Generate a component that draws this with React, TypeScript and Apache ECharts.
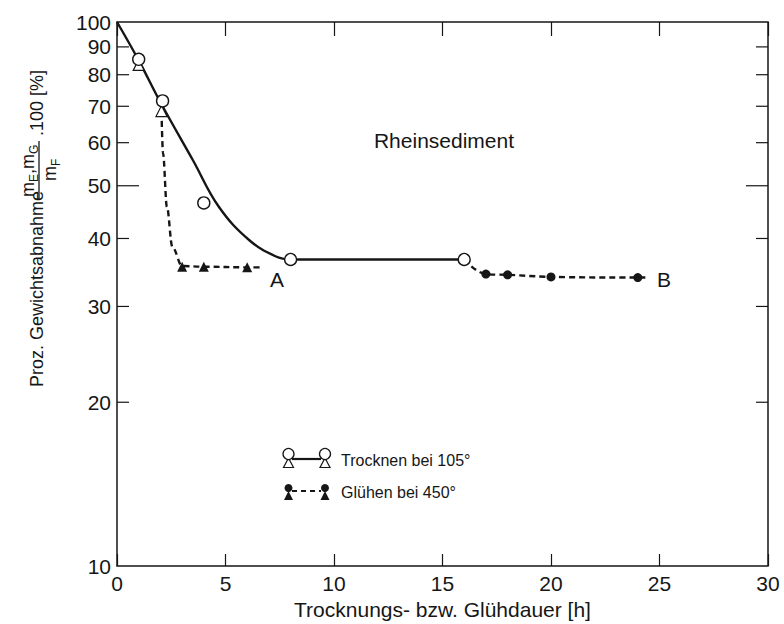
import React, { useEffect, useRef } from 'react';
import * as echarts from 'echarts';

// ---- data ----
const xTickLabels = [0, 5, 10, 15, 20, 25, 30];
const yTickValues = [100, 90, 80, 70, 60, 50, 40, 30, 20, 10];

// Trocknen bei 105° (open symbols, solid line)
const trocknenCircles = [[1, 85.4], [2.1, 71.6], [4, 46.5], [8, 36.6], [16, 36.6]];
const trocknenTriangles = [[1, 83.4], [2.05, 68.6]];
const trocknenCurve = [[0, 100], [1, 85], [2, 71.2], [3.5, 55.7], [4.7, 45.7], [6.1, 39.7], [7.3, 37.1], [8, 36.6], [9.5, 36.6], [16, 36.6]];

// Glühen bei 450° (filled symbols, dashed line)
const gluehenTriangles = [[3, 35.5], [4, 35.5], [6, 35.4]];
const gluehenCurveA = [[2.05, 68.6], [2.12, 57.4], [2.3, 45.7], [2.55, 38.6], [3, 35.6], [4, 35.5], [6, 35.4], [6.7, 35.4]];
const gluehenDots = [[17, 34.4], [18, 34.3], [20, 34.0], [24, 33.9]];
const gluehenCurveB = [[16, 36.6], [16.5, 35.1], [17, 34.4], [18, 34.3], [20, 34.0], [24, 33.9], [24.5, 33.9]];

const INK = '#161616';
const FONT = '"Liberation Sans", Arial, sans-serif';

export default function App() {
  const ref = useRef<HTMLDivElement>(null);
  useEffect(() => {
    document.body.style.margin = '0';
    if (!ref.current) return;
    const chart = echarts.init(ref.current, null, { renderer: 'svg' });
    const txt = (text: string, x: number, y: number, size: number, align = 'left', extra: any = {}) => ({
      type: 'text', x, y,
      style: { text, fill: INK, font: `${size}px ${FONT}`, align, verticalAlign: 'middle', ...extra },
    });
    const openCircle = (x: number, y: number) => ({ type: 'circle', shape: { cx: x, cy: y, r: 5.5 }, style: { fill: '#fff', stroke: INK, lineWidth: 1.3 }, z: 10 });
    const openTri = (x: number, y: number) => ({ type: 'polygon', shape: { points: [[x, y - 5], [x - 5, y + 4.5], [x + 5, y + 4.5]] }, style: { fill: '#fff', stroke: INK, lineWidth: 1.2 }, z: 9 });
    const dot = (x: number, y: number) => ({ type: 'circle', shape: { cx: x, cy: y, r: 4 }, style: { fill: INK }, z: 10 });
    const fTri = (x: number, y: number) => ({ type: 'polygon', shape: { points: [[x, y - 5], [x - 4.5, y + 4], [x + 4.5, y + 4]] }, style: { fill: INK }, z: 9 });

    const option: any = {
      animation: false,
      backgroundColor: '#fff',
      grid: { left: 117, right: 16, top: 22, bottom: 58, show: true, borderColor: INK, borderWidth: 1.5, backgroundColor: 'transparent', outerBoundsMode: 'none' },
      xAxis: [
        {
          type: 'value', position: 'bottom', min: 0, max: 30, interval: 5,
          axisLine: { show: false },
          axisTick: { show: true, inside: true, length: 12, lineStyle: { color: INK, width: 1.2 } },
          splitLine: { show: false },
          axisLabel: { margin: 7, fontSize: 21, fontFamily: FONT, color: INK, formatter: (v: number) => (xTickLabels.includes(v) ? String(v) : '') },
          name: 'Trocknungs- bzw. Glühdauer [h]', nameLocation: 'middle', nameGap: 31,
          nameTextStyle: { fontSize: 21, fontFamily: FONT, color: INK },
        },
        {
          type: 'value', position: 'top', min: 0, max: 30, interval: 5,
          axisLine: { show: false },
          axisTick: { show: true, inside: true, length: 14, lineStyle: { color: INK, width: 1.2 } },
          splitLine: { show: false }, axisLabel: { show: false },
        },
      ],
      yAxis: {
        type: 'log', logBase: 10, min: 10, max: 100,
        axisLine: { show: false }, axisTick: { show: false }, axisLabel: { show: false }, splitLine: { show: false },
      },
      series: [
        {
          type: 'custom', coordinateSystem: 'cartesian2d', clip: false, silent: true,
          data: yTickValues.map((v) => [0, v]), encode: { x: 0, y: 1 },
          renderItem: (params: any, api: any) => {
            const v = api.value(1);
            const pL = api.coord([0, v]);
            const pR = api.coord([30, v]);
            const len = v === 50 ? 22 : 12;
            const children: any[] = [];
            if (v !== 100 && v !== 10) {
              children.push({ type: 'line', shape: { x1: pL[0], y1: pL[1], x2: pL[0] + len, y2: pL[1] }, style: { stroke: INK, lineWidth: 1.2 } });
              children.push({ type: 'line', shape: { x1: pR[0] - len, y1: pR[1], x2: pR[0], y2: pR[1] }, style: { stroke: INK, lineWidth: 1.2 } });
            }
            children.push({ type: 'text', x: pL[0] - 6, y: pL[1], style: { text: String(v), fill: INK, font: `21px ${FONT}`, align: 'right', verticalAlign: 'middle' } });
            return { type: 'group', children };
          },
        },
        {
          name: 'Trocknen curve', type: 'line', data: trocknenCurve, smooth: 0.4, showSymbol: false, symbol: 'none',
          lineStyle: { color: INK, width: 2.4 }, z: 3,
        },
        {
          name: 'Glühen A', type: 'line', data: gluehenCurveA, smooth: 0.35, smoothMonotone: 'x', showSymbol: false, symbol: 'none',
          lineStyle: { color: INK, width: 2.4, type: [6, 4] }, z: 3,
        },
        {
          name: 'Glühen B', type: 'line', data: gluehenCurveB, smooth: 0.3, showSymbol: false, symbol: 'none',
          lineStyle: { color: INK, width: 2.4, type: [6, 4] }, z: 3,
        },
        {
          name: 'Trocknen triangles', type: 'scatter', data: trocknenTriangles, symbol: 'triangle', symbolSize: 11,
          itemStyle: { color: '#fff', borderColor: INK, borderWidth: 1.2, opacity: 1 }, z: 4,
        },
        {
          name: 'Trocknen circles', type: 'scatter', data: trocknenCircles, symbol: 'circle', symbolSize: 12,
          itemStyle: { color: '#fff', borderColor: INK, borderWidth: 1.4, opacity: 1 }, z: 5,
        },
        {
          name: 'Glühen triangles', type: 'scatter', data: gluehenTriangles, symbol: 'triangle', symbolSize: 10,
          itemStyle: { color: INK, opacity: 1 }, z: 5,
        },
        {
          name: 'Glühen dots', type: 'scatter', data: gluehenDots, symbol: 'circle', symbolSize: 9,
          itemStyle: { color: INK, opacity: 1 }, z: 5,
        },
      ],
      graphic: [
        txt('Rheinsediment', 444, 140, 21, 'center'),
        txt('A', 277, 279, 21, 'center'),
        txt('B', 664, 279, 21, 'center'),
        // legend
        { type: 'line', shape: { x1: 292, y1: 459, x2: 321, y2: 459 }, style: { stroke: INK, lineWidth: 2.2 } },
        openTri(288.5, 463), openCircle(288.5, 454),
        openTri(325, 463), openCircle(325, 454),
        txt('Trocknen bei 105°', 341, 460, 16),
        { type: 'line', shape: { x1: 292, y1: 491, x2: 321, y2: 491 }, style: { stroke: INK, lineWidth: 2.2, lineDash: [5, 4] } },
        fTri(288.5, 496), dot(288.5, 488),
        fTri(325, 496), dot(325, 488),
        txt('Glühen bei 450°', 341, 492, 16),
        // y axis title (rotated)
        {
          type: 'group', x: 37, y: 387, rotation: Math.PI / 2,
          children: [
            txt('Proz. Gewichtsabnahme', 0, 0, 18, 'left'),
            txt('m', 190, -9, 18, 'left'),
            txt('E', 205, -3, 12, 'left'),
            txt(',', 213, -9, 18, 'left'),
            txt('m', 218, -9, 18, 'left'),
            txt('G', 233, -3, 12, 'left'),
            { type: 'line', shape: { x1: 188, y1: 2, x2: 246, y2: 2 }, style: { stroke: INK, lineWidth: 1.3 } },
            txt('m', 206, 13, 18, 'left'),
            txt('F', 221, 19, 12, 'left'),
            txt('.100 [%]', 251, 0, 18, 'left'),
          ],
        },
      ],
    };
    chart.setOption(option);
    return () => chart.dispose();
  }, []);
  return <div ref={ref} style={{ width: 784, height: 624 }} />;
}
